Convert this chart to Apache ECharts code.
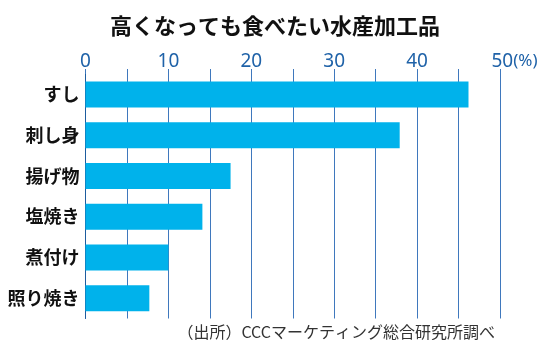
<!DOCTYPE html>
<html>
<head>
<meta charset="utf-8">
<script src="https://cdn.jsdelivr.net/npm/echarts@6/dist/echarts.min.js"></script>
<style>
html,body{margin:0;padding:0;background:#fff;}
#c{width:550px;height:360px;}
</style>
</head>
<body>
<div id="c"></div>
<script>
var titleText = '高くなっても食べたい水産加工品';
var sourceText = '（出所）CCCマーケティング総合研究所調べ';
var categories = ['すし', '刺し身', '揚げ物', '塩焼き', '煮付け', '照り焼き'];
var values = [46.2, 37.9, 17.5, 14.1, 10.0, 7.7];
var tickLabels = ['0', '10', '20', '30', '40', '50'];

var chart = echarts.init(document.getElementById('c'), null, {renderer: 'canvas'});
var gridColor = '#3f78bd';
var labelColor = '#1f62a8';
chart.setOption({
  animation: false,
  backgroundColor: '#ffffff',
  title: [{
    text: titleText,
    left: 'center',
    top: 10,
    textStyle: {fontFamily: 'Noto Sans CJK JP', fontWeight: 'bold', fontSize: 22, color: '#111'}
  }, {
    text: sourceText,
    right: 50,
    top: 319,
    textStyle: {fontFamily: 'Noto Sans CJK JP', fontWeight: 'normal', fontSize: 16, color: '#333'}
  }],
  grid: {left: 85.5, right: 50, top: 74, bottom: 41.5, containLabel: false},
  xAxis: {
    type: 'value',
    position: 'top',
    min: 0, max: 50, interval: 5,
    axisLine: {show: false},
    axisTick: {show: true, length: 5, inside: false, lineStyle: {color: gridColor, width: 1}},
    splitLine: {show: true, lineStyle: {color: gridColor, width: 1}},
    axisLabel: {
      margin: 3,
      fontFamily: 'Noto Sans',
      fontSize: 19,
      color: labelColor,
      formatter: function (v) {
        if (v % 10 !== 0) return '';
        var s = tickLabels[v / 10];
        if (v === 50) return '{p|}' + s + '{u|(%)}';
        return s;
      },
      rich: {
        p: {width: 29},
        u: {fontSize: 17, color: labelColor, fontFamily: 'Noto Sans', padding: [0, 0, 1, 0]}
      }
    }
  },
  yAxis: {
    type: 'category',
    inverse: true,
    data: categories,
    axisLine: {show: true, lineStyle: {color: '#1d5c9f', width: 1}},
    axisTick: {show: false},
    axisLabel: {margin: 6, fontFamily: 'Noto Sans CJK JP', fontWeight: 'bold', fontSize: 18, color: '#111'}
  },
  series: [{
    type: 'bar',
    data: values,
    barWidth: 26,
    itemStyle: {color: '#00b2eb'},
    z: 3
  }]
});
</script>
</body>
</html>
